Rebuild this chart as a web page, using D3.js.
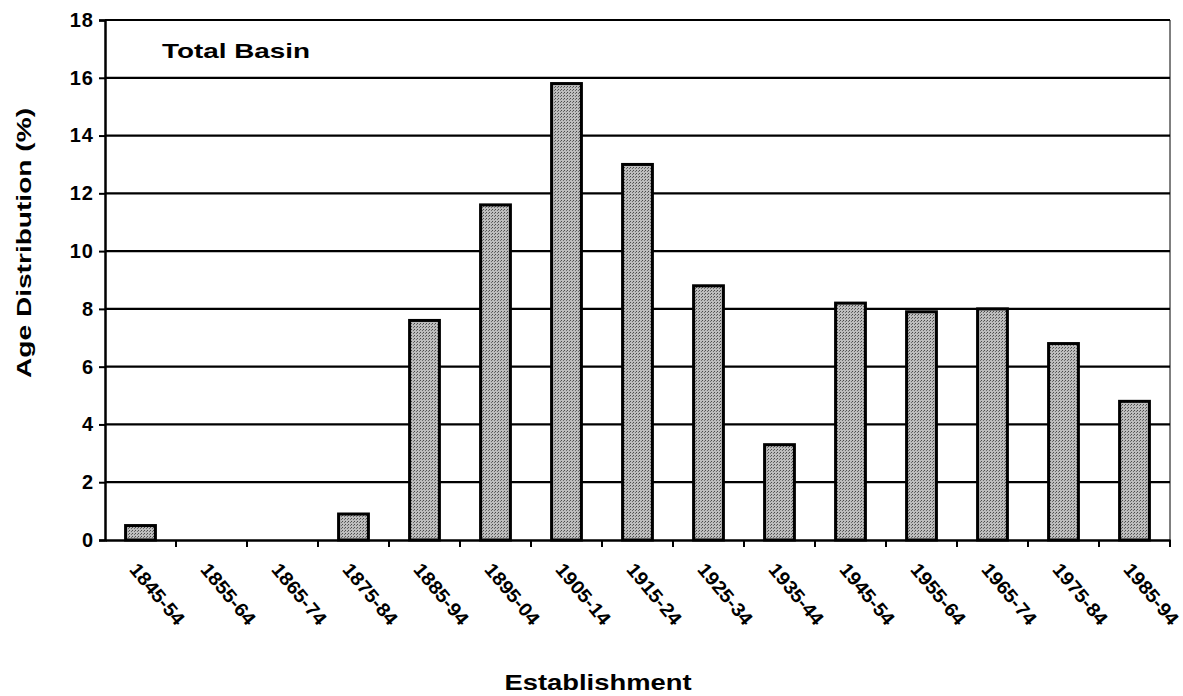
<!DOCTYPE html>
<html>
<head>
<meta charset="utf-8">
<script src="https://cdn.jsdelivr.net/npm/d3@7"></script>
<style>
  body { margin: 0; background: #fff; }
  text { font-family: "Liberation Sans", Arial, sans-serif; font-weight: bold; fill: #000; }
</style>
</head>
<body>
<div id="chart"></div>
<script>
var categories = ["1845-54", "1855-64", "1865-74", "1875-84", "1885-94", "1895-04", "1905-14",
  "1915-24", "1925-34", "1935-44", "1945-54", "1955-64", "1965-74", "1975-84", "1985-94"];
var values = [0.5, 0, 0, 0.9, 7.6, 11.6, 15.8, 13.0, 8.8, 3.3, 8.2, 7.9, 8.0, 6.8, 4.8];
var yTicks = [0, 2, 4, 6, 8, 10, 12, 14, 16, 18];

var W = 1183, H = 696;
var margin = {top: 20, right: 13, bottom: 156, left: 105};
var width = W - margin.left - margin.right,
    height = H - margin.top - margin.bottom;

var svg = d3.select("#chart").append("svg")
    .attr("width", W)
    .attr("height", H);

var defs = svg.append("defs");
var pat = defs.append("pattern")
    .attr("id", "stipple")
    .attr("patternUnits", "userSpaceOnUse")
    .attr("width", 3).attr("height", 3);
pat.append("rect").attr("width", 3).attr("height", 3).attr("fill", "#bdbdbd");
pat.append("rect").attr("x", 0).attr("y", 0).attr("width", 1).attr("height", 1).attr("fill", "#4a4a4a");
pat.append("rect").attr("x", 2).attr("y", 1).attr("width", 1).attr("height", 1).attr("fill", "#6a6a6a");

var g = svg.append("g")
    .attr("transform", "translate(" + margin.left + "," + margin.top + ")");

var x = d3.scaleBand().domain(categories).range([0, width]).paddingInner(0.58).paddingOuter(0.29);
var xb = d3.scaleBand().domain(categories).range([0, width]);
var y = d3.scaleLinear().domain([0, 18]).range([height, 0]);

// gridlines
g.selectAll(".grid")
  .data(yTicks.filter(function(d) { return d > 0; }))
  .enter().append("line")
    .attr("x1", 0).attr("x2", width)
    .attr("y1", function(d) { return y(d); })
    .attr("y2", function(d) { return y(d); })
    .attr("stroke", "#000")
    .attr("stroke-width", 2.2);

// right border
g.append("line")
    .attr("x1", width).attr("x2", width)
    .attr("y1", 0).attr("y2", height)
    .attr("stroke", "#000").attr("stroke-width", 1);

// bars
g.selectAll(".bar")
  .data(values)
  .enter().append("rect")
    .attr("class", "bar")
    .attr("x", function(d, i) { return x(categories[i]); })
    .attr("y", function(d) { return y(d); })
    .attr("width", x.bandwidth())
    .attr("height", function(d) { return height - y(d); })
    .attr("fill", "url(#stipple)")
    .attr("stroke", "#000")
    .attr("stroke-width", function(d) { return d > 0 ? 3 : 0; });

// y axis
var yAxis = g.append("g")
    .call(d3.axisLeft(y).tickValues(yTicks).tickSize(6).tickPadding(5));
yAxis.select(".domain").attr("stroke-width", 2.5);
yAxis.selectAll(".tick line").attr("stroke-width", 2);
yAxis.selectAll("text").style("font-size", "20px").style("letter-spacing", "1px");

// x axis
var xAxis = g.append("g")
    .attr("transform", "translate(0," + height + ")")
    .call(d3.axisBottom(xb).tickValues([]).tickSizeOuter(0));
xAxis.select(".domain").attr("stroke-width", 2.5);
xAxis.selectAll(".xt")
  .data(d3.range(1, categories.length + 1))
  .enter().append("line")
    .attr("x1", function(i) { return i * xb.bandwidth(); })
    .attr("x2", function(i) { return i * xb.bandwidth(); })
    .attr("y1", 0).attr("y2", 7)
    .attr("stroke", "#000").attr("stroke-width", 2);

g.selectAll(".xlabel")
  .data(categories)
  .enter().append("text")
    .attr("transform", function(d) {
      return "translate(" + (xb(d) + xb.bandwidth() / 2 - 12) + "," + (height + 30) + ") rotate(50)";
    })
    .attr("text-anchor", "start")
    .attr("textLength", 74)
    .attr("lengthAdjust", "spacingAndGlyphs")
    .style("font-size", "19px")
    .text(function(d) { return d; });

// titles
svg.append("text")
    .attr("transform", "translate(31,243) rotate(-90)")
    .attr("text-anchor", "middle")
    .attr("textLength", 270)
    .attr("lengthAdjust", "spacingAndGlyphs")
    .style("font-size", "21px")
    .text("Age Distribution (%)");

svg.append("text")
    .attr("x", 598)
    .attr("y", 690)
    .attr("text-anchor", "middle")
    .attr("textLength", 187)
    .attr("lengthAdjust", "spacingAndGlyphs")
    .style("font-size", "22px")
    .text("Establishment");

g.append("text")
    .attr("x", 57)
    .attr("y", 38)
    .attr("textLength", 148)
    .attr("lengthAdjust", "spacingAndGlyphs")
    .style("font-size", "21px")
    .text("Total Basin");
</script>
</body>
</html>
